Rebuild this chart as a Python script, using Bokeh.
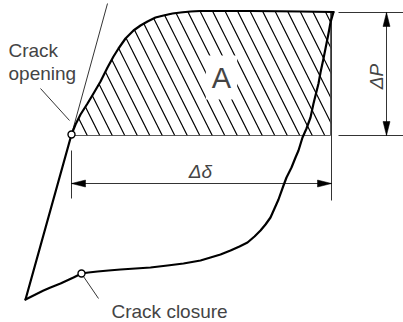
from math import pi
from bokeh.plotting import figure
from bokeh.models import Range1d, Label
from bokeh.embed import file_html
from bokeh.resources import INLINE

# ---- data (diagram units = reference pixels, y grows downward) ----
# loading branch: straight part from cusp to crack-opening point
straight_x = [25, 71]
straight_y = [299, 134]
# loading branch: curved part from crack opening up to peak load
load_x = [71, 75, 80, 87, 93, 100, 107, 113, 118, 125, 133, 140, 147, 155, 163, 172, 180, 190, 200, 250, 300, 333]
load_y = [134, 124, 114, 103, 93, 81, 67, 56, 48, 38, 30, 25, 21, 17, 15, 13, 12, 11, 10.5, 10.5, 11, 11.5]
# unloading branch: from peak back to the cusp
unload_x = [333, 330, 328, 325, 323, 320, 318, 315, 313, 310, 306, 302, 298, 295, 291, 286, 283, 278, 274, 270,
            265, 260, 254, 247, 239, 230, 220, 210, 200, 183, 167, 150, 135, 120, 108, 97, 88, 81, 73, 60, 50, 43, 33, 25]
unload_y = [11.5, 22, 33, 48, 58, 72, 83, 95, 103, 117, 128, 137, 150, 157, 167, 177, 185, 199, 208, 217,
            224, 230, 236, 242, 246, 250, 254, 257, 260, 263, 265, 267, 268, 269, 270, 271, 272, 273, 277, 283, 287, 290, 295, 299]
# tangent to the straight loading part
tangent_x = [71, 107]
tangent_y = [134, 3]
# marked points
opening_pt = (71, 134)
closure_pt = (81, 273)
# hatched area A (bounded below by opening level and right by peak displacement)
area_right = 330
area_bottom = 135
# dimension delta-delta
dd_x = [71, 331]
dd_y = 183
dd_ext_left = [150, 198]
dd_ext_right = [11, 200]
# dimension delta-P
dp_x = 386
dp_y = [12, 135]
dp_ext_x = [338, 403]
# leaders
open_leader_x = [40, 69]
open_leader_y = [88, 120]
close_leader_x = [83, 98]
close_leader_y = [276, 298]

labels = {"open1": "Crack", "open2": "opening", "close": "Crack closure", "A": "A", "dd": "Δδ", "dp": "ΔP"}

# ---- figure ----
p = figure(width=403, height=322, output_backend="svg", toolbar_location=None,
           x_range=Range1d(0, 403), y_range=Range1d(322, 0), min_border=0)
p.axis.visible = False
p.grid.visible = False
p.outline_line_color = None
p.background_fill_color = "white"
p.border_fill_color = "white"

# hatched area
hx = list(load_x[:-1]) + [area_right, area_right, opening_pt[0]]
hy = list(load_y[:-1]) + [load_y[-1], area_bottom, area_bottom]
p.patch(hx, hy, fill_color=None, hatch_pattern="left_diagonal_line", hatch_color="black",
        hatch_scale=25, hatch_weight=1.2, line_color="#333333", line_width=0.8)

# "A" with white box
p.add_layout(Label(x=221, y=77, text=labels["A"], text_font="Liberation Sans", text_font_size="29px",
                   text_align="center", text_baseline="middle", background_fill_color="white",
                   padding=6))

# thin lines
thin = dict(line_color="black", line_width=0.8)
p.line(tangent_x, tangent_y, **thin)
p.line(open_leader_x, open_leader_y, **thin)
p.line(close_leader_x, close_leader_y, **thin)
p.line([dd_x[0], dd_x[0]], dd_ext_left, **thin)
p.line([dd_x[1], dd_x[1]], dd_ext_right, **thin)
p.line(dd_x, [dd_y, dd_y], **thin)
p.line([dp_x, dp_x], dp_y, **thin)
p.line(dp_ext_x, [dp_y[0], dp_y[0]], **thin)
p.line(dp_ext_x, [dp_y[1], dp_y[1]], **thin)

# arrowheads (length 14, half width 3.5)
L, W = 14, 3.5
heads_x = [[dd_x[0], dd_x[0] + L, dd_x[0] + L], [dd_x[1], dd_x[1] - L, dd_x[1] - L],
           [dp_x, dp_x - W, dp_x + W], [dp_x, dp_x - W, dp_x + W]]
heads_y = [[dd_y, dd_y - W, dd_y + W], [dd_y, dd_y - W, dd_y + W],
           [dp_y[0], dp_y[0] + L, dp_y[0] + L], [dp_y[1], dp_y[1] - L, dp_y[1] - L]]
p.patches(heads_x, heads_y, fill_color="black", line_color="black", line_width=0.5)

# thick curves
thick = dict(line_color="black", line_width=2.2, line_join="round", line_cap="round")
p.line(straight_x, straight_y, **thick)
p.line(load_x, load_y, **thick)
p.line(unload_x, unload_y, **thick)

# marker points
p.scatter([opening_pt[0], closure_pt[0]], [opening_pt[1], closure_pt[1]], marker="circle", size=7,
          fill_color="white", line_color="black", line_width=1.4)

# texts
font = "Liberation Sans"
p.add_layout(Label(x=8, y=50, text=labels["open1"], text_font=font, text_font_size="19px",
                   text_baseline="middle"))
p.add_layout(Label(x=8, y=73, text=labels["open2"], text_font=font, text_font_size="19px",
                   text_baseline="middle"))
p.add_layout(Label(x=111, y=311, text=labels["close"], text_font=font, text_font_size="19px",
                   text_baseline="middle"))
p.add_layout(Label(x=200, y=171, text=labels["dd"], text_font=font, text_font_size="19px",
                   text_font_style="italic", text_align="center", text_baseline="middle"))
p.add_layout(Label(x=376, y=76, text=labels["dp"], text_font=font, text_font_size="19px",
                   text_font_style="italic", text_align="center", text_baseline="middle",
                   angle=pi / 2))

open("out.html", "w").write(file_html(p, INLINE))
